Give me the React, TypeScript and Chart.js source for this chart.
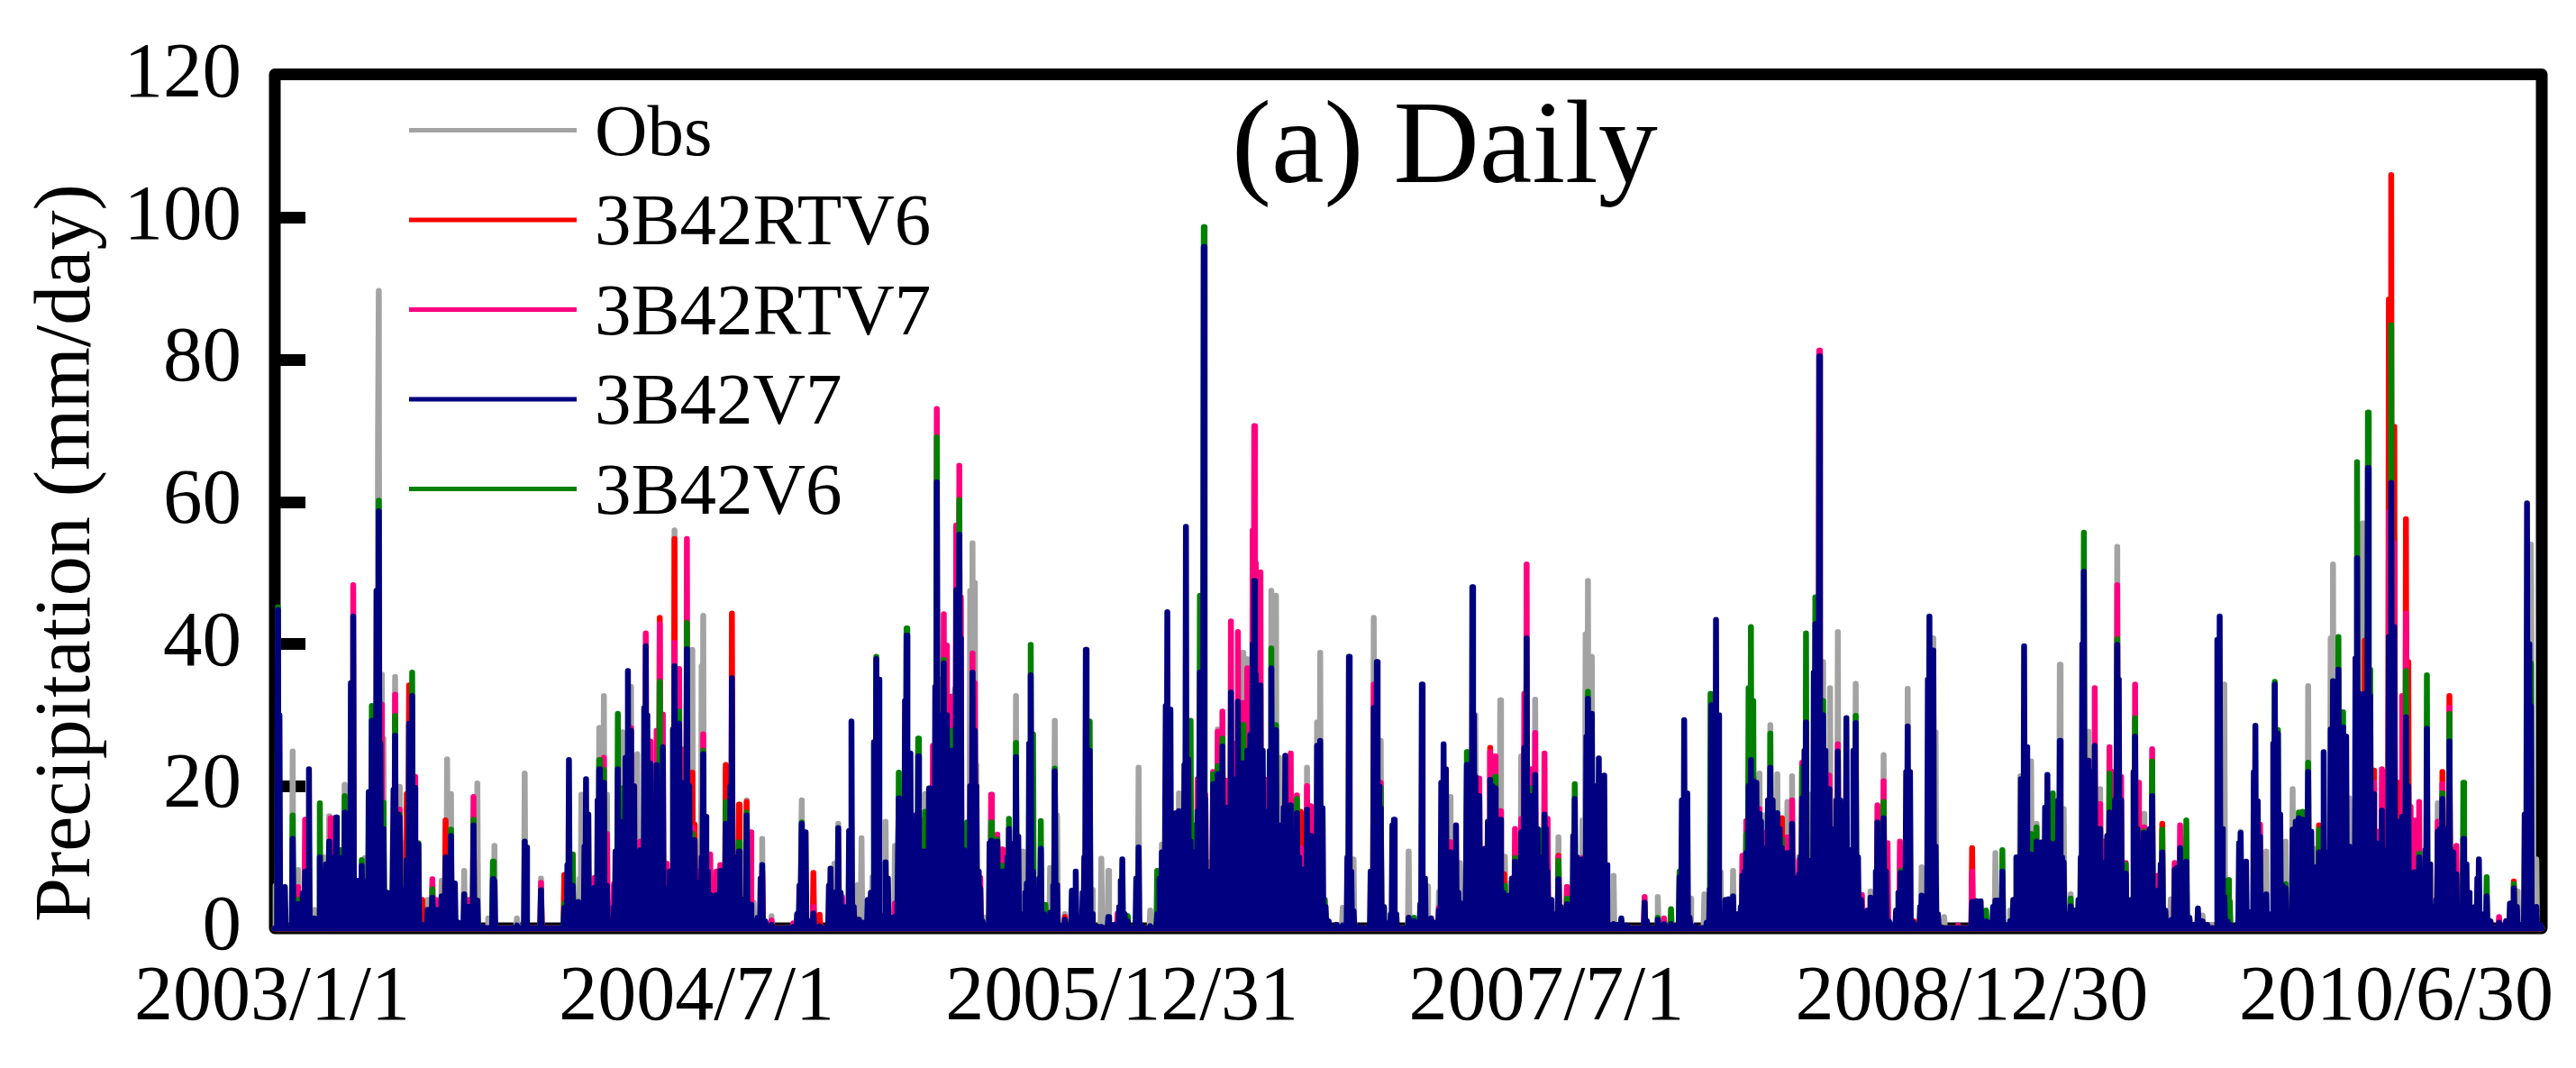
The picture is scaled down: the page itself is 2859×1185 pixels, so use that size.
import { Chart, registerables } from "chart.js";
import React, { useEffect, useRef } from "react";

Chart.register(...registerables);

// Peaks as [day since 2003/1/1, mm/day]. Days not listed are dry.
const obsPeaks: number[][] = [
  [1,6],[23,24.9],[30,8.2],[44,10.8],[51,2.6],[63,10],[70,15.8],[90,20.2],[116,9.9],[133,70],[134,89.7],[137,35.7],[140,26.7],[155,35.4],[161,19.9],[165,12],[197,4],[215,6.7],[222,23.8],[227,18.9],[244,8.1],[261,20.4],[275,1.4],[283,11.6],[312,1.4],[322,21.8],[343,7],
  [393,7],[395,18.8],[404,8],[418,28.2],[424,32.7],[428,18.8],[448,27.6],[459,34],[467,24.5],[486,12.7],[496,34.9],[515,56],[538,39.2],[550,36.9],[552,44],[598,11],[608,18],[617,3.6],[628,12.6],[640,1.7],[676,4],[679,18],[721,9.1],[726,14.7],
  [751,6.1],[756,12.7],[770,7.2],[787,15],[799,11.6],[838,18.9],[876,33.6],[896,47.5],[899,54.2],[902,48.6],[904,23],[915,1.5],[955,32.7],[964,10.8],[969,7.6],[999,8.5],[1005,29.2],[1008,15.9],[1018,2],[1053,5.4],[1065,9.8],[1074,8.1],
  [1113,22.6],[1128,2.5],[1143,11.8],[1165,19],[1203,9.3],[1215,28],[1247,38.8],[1253,37.9],[1284,47.5],[1290,46.8],[1294,24],[1330,22.6],[1343,29],[1347,38.8],[1350,16.9],[1376,2.9],[1390,9.7],[1416,43.7],[1425,26.4],[1430,2.7],[1461,10.8],
  [1485,5.9],[1500,5.1],[1514,18.5],[1527,9.2],[1530,5.3],[1547,30],[1579,32.1],[1585,10.1],[1590,6.3],[1603,13],[1606,24.2],[1624,32.2],[1654,12.8],[1685,15.2],[1689,41.4],[1692,48.9],[1697,38.2],[1725,7.4],[1782,4.4],[1824,4.2],[1842,4.8],
  [1863,7.9],[1879,8.1],[1909,21],[1913,21.8],[1918,15.9],[1927,28.6],[1936,21.7],[1949,17.8],[1955,21.4],[1964,10.1],[1977,18.8],[1995,37.5],[2004,33.8],[2014,41.7],[2037,34.4],[2056,5.2],[2073,24.4],[2104,33.7],[2122,8.6],[2137,40.8],[2140,27.6],[2151,1.6],[2217,10.6],
  [2236,2.5],[2249,21.4],[2263,23.5],[2270,14.7],[2300,37.1],[2305,16.8],[2314,4.8],[2337,27.7],[2352,19.6],[2374,53.7],[2408,16.1],[2443,4.1],[2484,1.8],[2496,0.5],[2512,34.3],[2533,13.6],[2566,10.8],[2585,8.6],[2591,12.2],
  [2600,19.6],[2620,34.1],[2630,11.2],[2649,40.8],[2652,51.2],[2673,18.3],[2690,57],[2731,55.2],[2778,9],[2787,17.6],[2890,5.2],[2907,54],[2908,35.9],[2914,9.7],
];

const rtv6Peaks: number[][] = [
  [170,18.9],[173,34.2],[190,4],[220,15.2],[373,7.5],[496,43.7],[515,54.8],[538,21.9],[541,14.6],[581,23],[589,44.3],[598,17.4],[608,17.8],[694,7.8],[702,1.9],[1018,1.6],[1322,16.4],[1566,25.4],[1584,7.6],[1654,10.2],[1665,5.8],[1695,4.6],[1942,15.5],[2112,1],[2187,11.3],[2432,14.7],[2634,14.5],[2693,40.5],[2704,22.2],[2724,88.5],[2727,106],[2731,70.6],[2736,20.5],[2746,57.6],[2749,37.5],[2793,22],[2802,32.7],[2807,11],[2885,6.6],
];

const rtv7Peaks: number[][] = [
  [30,5.8],[39,15.3],[72,15.5],[101,48.3],[137,31.5],[155,32.9],[161,16.7],[180,21.3],[203,6.9],[208,4],[250,4],[256,18.5],[343,6.4],
  [412,7.1],[424,24],[428,13.3],[437,6.2],[459,28.2],[471,12.2],[478,41.5],[483,26.3],[492,27.8],[496,42.8],[500,30.1],[505,9.1],[515,40.2],[521,36.5],[524,25.2],[531,54.8],[538,14.2],[546,8],[552,27.3],[561,10.4],[569,8],[574,8.9],[613,13.5],[628,8],[640,1.1],[668,0.7],[694,3],[731,4.4],
  [799,3.5],[824,9.8],[834,15.3],[848,25.7],[853,73.1],[858,35],[862,44.2],[866,39.8],[872,32.6],[878,56.7],[882,65.1],[884,46.6],[899,38.7],[902,34.5],[909,7.1],[923,18.8],[931,13.2],[937,11.1],[1086,2.1],
  [1189,21],[1199,18.8],[1209,22],[1215,27.7],[1221,30.5],[1225,20.8],[1232,43.2],[1236,26],[1241,41.7],[1247,31.7],[1253,36.6],[1257,35.3],[1260,56],[1262,70.7],[1264,51.4],[1270,50.1],[1275,21],[1309,24.6],[1317,18.7],[1322,11.3],[1330,20],[1334,17.2],[1416,34.3],[1425,20.5],
  [1500,2.9],[1514,12.1],[1552,21.1],[1566,24.8],[1572,24.2],[1579,16.5],[1598,14],[1606,15.4],[1610,33],[1613,51.2],[1618,22.4],[1624,27.5],[1636,24.6],[1640,15.4],[1654,10],[1665,5.8],[1685,9.9],[1765,4.4],[1790,1.4],
  [1891,10.2],[1896,15.1],[1913,16.8],[1918,13.4],[1949,12.8],[1955,18],[1964,9.5],[1968,23.3],[1990,81.3],[2003,21.5],[2014,25.9],[2031,6.9],[2045,4.7],[2065,17.3],[2073,20.7],[2078,12],[2094,12.2],[2169,0.4],[2187,8],
  [2345,33.8],[2352,17.5],[2357,12.2],[2364,25.5],[2368,22],[2374,48.3],[2379,21.3],[2385,9.2],[2397,34.3],[2401,20.5],[2408,14.2],[2419,25.2],[2426,7.4],[2448,9.2],[2455,14.5],[2558,14.6],
  [2704,20.5],[2710,13.6],[2715,22.4],[2720,22],[2724,58.6],[2731,54.2],[2741,32.7],[2746,44.3],[2752,17.1],[2757,15.2],[2763,17.8],[2787,15],[2793,20.3],[2802,31],[2811,11.6],[2866,1.6],
];

const v7Peaks: number[][] = [
  [4,44.8],[6,30],[9,3],[13,5.8],[23,12.6],[30,3.4],[36,4.9],[39,8],[44,22.4],[51,1.4],[58,10],[63,0.8],[66,9],[70,12.2],[75,10],[79,15.6],[84,9.9],[90,16.3],[96,12.6],[98,34.5],[101,43.9],[107,6.7],[112,8.8],[116,6.6],[121,19.2],[125,29.2],[127,24.6],[131,47.5],[134,58.7],[136,26],[140,14],[144,5],[150,3],[153,19.5],[155,27.1],[158,16],[161,15.6],[165,5.4],[170,9.6],[173,28.8],[177,32.7],[180,19.8],[185,11.8],[190,0.5],[197,2.6],[203,4.3],[208,2.6],[215,4.5],[220,10],[227,13],[232,6.3],[237,0.8],[244,4.8],[250,3],[256,14.5],[261,3.9],[268,0.2],[281,6.9],[283,6.6],[312,0.4],[322,12.2],[324,11.4],[343,5.4],
  [373,2.9],[377,8.9],[379,23.7],[384,6],[391,3.7],[395,2.9],[399,11.5],[401,21],[404,16],[412,5.7],[416,18],[418,22.4],[424,20.5],[428,6],[437,3],[439,10.8],[442,22.4],[445,15],[448,12.6],[452,24],[455,36.2],[459,27.8],[463,20],[467,10.4],[471,11],[476,31],[478,39.7],[480,30],[483,23.2],[486,5.6],[489,12],[492,23],[496,16.8],[500,25.5],[505,5.6],[509,8],[513,28],[515,36.9],[518,25],[521,28.8],[524,20.5],[528,6],[531,39.3],[534,20],[538,12.4],[541,12.4],[546,6.4],[550,10],[552,24.5],[555,15.7],[558,8],[561,4.7],[565,4.5],[569,4.7],[574,8.1],[578,5],[581,14.7],[584,10.8],[587,20],[589,35.2],[593,10],[598,10.8],[603,4],[608,15.9],[613,3.3],[617,1],[622,1.5],[626,7],[628,8.9],[632,1],[640,0.5],[668,0.2],[673,2],[676,6],[679,14.7],[684,13.5],[690,1],[694,2.1],[702,0.3],[714,6],[716,8.4],[721,5],[726,14.1],[729,5],[731,1.6],
  [736,3],[740,13.7],[743,29.1],[746,3],[750,1.2],[753,1.2],[758,0.8],[764,4],[768,5],[772,26.2],[775,37.9],[778,35],[781,1.5],[784,1.8],[787,9.3],[790,7],[795,1.5],[800,1.7],[803,10],[804,18.3],[807,12],[809,12],[812,32],[814,41.2],[817,24],[819,24.6],[822,5],[824,6.4],[827,16],[829,24.2],[832,5],[834,10.8],[838,10.8],[843,19.7],[846,14],[848,14.2],[851,34],[853,62.8],[856,30],[858,25],[860,20],[862,37.3],[865,30],[866,27.8],[869,12],[872,25],[876,11.6],[878,47.6],[882,55.4],[884,40.8],[887,11],[892,10.3],[896,20],[899,36],[902,27.8],[904,20],[907,8],[909,5.6],[912,1],[915,0.3],[921,12],[923,12.3],[927,10],[931,12.2],[934,8],[937,8],[940,2.5],[944,10],[946,14],[950,2],[953,12],[955,24.1],[958,12.9],[961,2],[964,1.5],[967,5],[969,6.3],[972,26],[974,35.6],[977,8],[980,3.5],[985,7],[987,11.2],[991,2],[995,0.5],[999,2.2],[1003,6],[1005,22.1],[1008,6.1],[1012,0.3],[1018,1.2],[1027,5.3],[1030,5],[1032,8],[1036,1.5],[1041,5],[1043,10],[1045,39.2],[1048,25],[1050,25],[1053,2],[1060,0.2],[1065,0.2],[1074,1.6],[1082,0.5],[1088,3],[1090,6.7],[1092,9.7],[1095,2],[1099,1],
  [1110,7],[1113,11.4],[1116,0.5],[1128,0.3],[1137,2],[1140,7],[1143,10.7],[1147,11],[1148,31.3],[1150,44.5],[1154,30.8],[1158,10],[1161,16.2],[1165,16.5],[1169,4],[1172,23],[1174,56.5],[1177,23.8],[1180,12.2],[1184,10.7],[1189,16.5],[1192,36],[1197,95.9],[1199,18.2],[1203,1.5],[1206,8],[1209,20.3],[1212,8],[1215,21.7],[1218,12],[1221,25.6],[1225,17],[1228,10],[1232,33.2],[1236,21],[1241,31.9],[1244,20],[1247,23.2],[1250,20],[1253,25],[1257,27.2],[1260,40],[1262,48.9],[1264,35.7],[1267,28],[1270,34.2],[1273,25],[1275,16.5],[1279,5],[1282,25],[1284,36.6],[1287,15],[1290,27.9],[1294,14.5],[1297,5],[1300,17],[1302,24.3],[1305,14],[1309,17.3],[1312,13],[1315,6],[1317,16.2],[1320,10],[1323,8.3],[1327,5],[1330,16.7],[1334,13],[1338,4],[1341,10],[1343,25.7],[1347,26.4],[1350,16.9],[1354,3],[1358,1],[1368,0.5],[1376,0.4],[1382,10],[1384,38.2],[1387,8],[1390,2.4],[1398,0.2],[1412,8],[1414,7],[1416,31],[1420,37.5],[1423,20],[1425,16.9],[1428,3],[1430,1],[1438,2],[1440,14.5],[1442,15.3],[1445,2],[1461,1.5],[1468,1],[1476,3.4],[1478,34.3],
  [1482,7],[1485,1],[1490,1.4],[1495,0.8],[1500,2.5],[1503,20.5],[1506,25.9],[1509,22.4],[1512,3],[1514,10.7],[1518,10],[1522,14.5],[1525,5],[1527,3.6],[1531,0.8],[1535,9.5],[1536,23],[1540,18],[1543,48],[1545,30],[1547,21.3],[1550,15],[1552,18.6],[1554,6.1],[1557,3.5],[1559,11.2],[1563,15],[1566,20.9],[1569,20],[1572,19.7],[1576,15],[1579,15.3],[1583,5],[1585,4.4],[1590,4.6],[1594,7],[1598,9.4],[1601,7],[1603,8],[1606,13.5],[1610,25.4],[1613,40.8],[1616,15],[1618,18.6],[1621,14],[1624,21.6],[1627,14],[1630,9.1],[1633,10],[1636,16],[1638,14],[1640,8],[1644,4],[1648,1.5],[1651,2],[1654,6.9],[1657,3],[1661,1],[1665,3.4],[1668,2],[1671,3],[1673,13],[1675,18.2],[1678,10],[1682,1],[1685,9.7],[1689,3],[1690,27],[1692,32.3],[1695,11],[1697,30.2],[1700,20],[1703,18],[1706,23.9],[1710,20],[1713,21.5],[1716,8.9],[1720,0.5],[1725,0.6],[1730,0.5],[1735,1.4],[1742,0.4],[1765,3.6],[1768,1],[1782,1.2],[1790,0.6],[1799,0.6],[1805,0.3],[1810,7.2],[1813,18],[1816,29.3],[1820,19],[1823,1.5],[1830,0.3],[1845,0.8],[1849,5.5],
  [1851,31.4],[1854,18],[1857,43.4],[1860,30],[1862,0.5],[1869,4],[1873,4.1],[1876,4],[1879,4.5],[1882,2],[1886,0.5],[1889,3],[1891,7.4],[1894,8],[1896,10.6],[1899,20],[1902,23.7],[1905,20.7],[1909,20.5],[1913,16.1],[1915,15],[1918,11.2],[1921,6],[1924,18],[1927,22.6],[1930,18],[1933,8],[1936,16.2],[1939,14],[1942,11.3],[1946,8],[1949,10.6],[1953,8],[1955,14.7],[1958,0.5],[1961,7],[1964,7.6],[1966,10],[1968,18.3],[1971,25],[1973,29],[1976,9.5],[1980,9],[1983,36],[1985,42.8],[1990,80.5],[1993,30],[1995,30],[1998,25],[2000,9],[2003,19.6],[2006,14],[2009,3],[2012,18],[2014,24.9],[2017,18],[2020,11],[2023,14],[2025,29.6],[2028,11],[2031,6],[2034,25],[2037,28.9],[2040,10],[2044,4],[2048,1],[2052,2.5],[2056,4.3],[2059,1],[2063,8],[2065,14.9],[2069,6],[2073,15.5],[2076,8],[2080,1],[2085,0.5],[2089,2.5],[2092,5],[2095,7.8],[2098,3],[2102,22],[2104,28.4],[2107,22],[2111,0.8],[2115,0.4],[2120,3],[2122,4.6],[2126,2],[2130,35],[2132,43.9],[2135,39],[2137,39.1],[2140,11.5],[2143,2],[2148,0.1],[2187,3.7],[2192,3.8],[2198,3.8],[2201,1],[2205,1],[2210,0.8],[2214,3],[2217,3.9],[2221,3.9],
  [2226,8],[2230,0.5],[2236,1],[2240,4],[2244,10],[2247,10],[2250,21],[2254,39.7],[2257,25.5],[2260,7],[2263,10.4],[2266,6],[2270,12.2],[2274,12],[2277,12.1],[2281,17],[2284,21.6],[2287,12],[2291,11.7],[2295,12],[2298,18],[2300,26.4],[2303,10],[2305,9.3],[2309,2],[2314,3.1],[2319,2.5],[2324,4],[2327,10],[2329,40],[2331,50.2],[2334,22],[2337,23.6],[2341,22],[2345,25.7],[2349,14],[2352,14],[2355,9],[2358,9.2],[2361,13],[2364,16.3],[2368,15],[2371,18],[2374,39.9],[2376,35],[2379,18],[2382,4],[2385,7.7],[2389,4],[2392,2],[2395,22],[2397,27],[2400,14],[2403,12],[2406,10],[2408,13.4],[2412,5],[2416,14],[2419,18.6],[2422,5],[2426,5.3],[2430,9],[2432,10.7],[2436,2.5],[2440,0.6],[2444,1.2],[2448,8.2],[2451,8.5],[2455,11.3],[2458,9],[2463,9.4],[2467,1.5],[2473,0.5],[2478,2.8],[2484,1],[2490,0.5],[2503,40.6],[2506,43.9],[2509,14],[2512,4.4],[2516,1],[2520,0.5],[2528,0.5],[2531,12],[2533,13.4],[2537,9],[2540,9.4],[2543,2.3],[2548,2],[2550,22],[2552,28.5],[2555,17.9],[2558,12.9],[2562,2],[2566,4.8],[2569,2],[2575,26],[2577,34.3],[2581,27.4],[2584,16],[2587,6],[2591,5.6],
  [2597,1],[2600,13.9],[2604,15],[2608,15.5],[2613,15.3],[2617,14],[2620,22],[2624,13.6],[2627,8],[2630,8.6],[2634,10.7],[2637,7],[2640,24.8],[2645,10.7],[2649,28],[2652,34.8],[2655,25],[2659,36.4],[2662,28],[2665,28.3],[2669,27],[2673,11.5],[2677,7],[2681,38],[2683,52.1],[2686,33],[2690,32.7],[2693,33],[2697,64.8],[2700,32.7],[2704,18.9],[2708,12],[2710,11.5],[2715,16.6],[2720,11],[2724,41],[2727,62.7],[2731,42.4],[2734,15],[2737,15],[2741,15.7],[2746,29.7],[2749,20],[2752,5.3],[2757,7.9],[2763,10],[2767,4],[2771,11],[2773,28.1],[2776,9],[2780,3],[2785,4],[2787,13.6],[2790,14],[2793,18.2],[2796,14],[2799,11],[2802,26.3],[2805,10.7],[2807,10.7],[2811,7.6],[2815,3],[2820,12.6],[2824,9],[2827,5],[2832,2],[2835,3],[2838,7],[2840,9.7],[2843,2],[2850,4.5],[2855,1],[2866,0.8],[2875,1],[2880,3.5],[2885,5.6],[2889,3],[2892,0.5],[2899,16],[2902,59.8],[2905,40],[2907,31.3],[2910,2],[2914,3],[2919,0.5],
];

const v6Peaks: number[][] = [
  [4,45.2],[23,15.9],[30,4],[58,17.6],[84,11],[90,18.6],[112,9.6],[125,31.3],[134,60.2],[140,17.7],[155,29.9],[161,16],[177,36],[185,12],[203,5.5],[227,13.9],[256,15.3],[281,9.4],
  [373,3.5],[384,10.4],[418,23.7],[424,22.3],[442,30.2],[448,19.7],[496,34.7],[521,30.5],[531,43],[538,13.3],[552,25],[581,17.8],[598,12.1],[608,16.3],[679,14.9],
  [775,38.2],[804,21.9],[809,13.8],[814,42.2],[824,7],[829,26.7],[834,11.5],[838,16.4],[853,69.1],[862,37.8],[872,27.8],[882,60.3],[892,14.9],[923,14.9],[931,12.5],[937,8.8],[946,15.4],[955,26.1],[974,39.9],[977,27.3],[987,15.1],[993,3.3],[1005,22.5],[1050,29.1],[1099,1.7],
  [1137,8.1],[1180,29.2],[1184,14.5],[1192,46.8],[1197,98.7],[1209,21.7],[1215,22.8],[1221,26.7],[1247,28.6],[1284,39.4],[1290,28.6],[1317,18.2],[1353,4],[1425,19.8],[1468,1.5],
  [1536,24.8],[1572,21.3],[1585,6],[1598,9.9],[1610,4.3],[1618,19.7],[1630,13.8],[1654,9.5],[1665,4.2],[1675,20.3],[1692,33.3],[1782,1.5],[1799,2.7],[1810,8],[1850,33],
  [1896,13.3],[1899,33.8],[1902,42.4],[1905,32],[1927,27.4],[1942,12.5],[1968,22.6],[1973,41.5],[1985,46.6],[1995,32],[2037,29.9],[2073,17.8],[2095,8.1],[2205,2.5],
  [2226,11],[2263,13.3],[2270,14.2],[2291,19],[2314,4.2],[2331,55.7],[2364,21.8],[2368,18],[2374,40.7],[2385,9],[2397,29.6],[2408,13.6],[2419,23.5],[2432,13.9],[2463,15.2],[2517,6.8],[2519,3.8],[2577,34.7],[2581,27.9],[2591,6.2],
  [2608,16.3],[2613,16.4],[2620,23.3],[2634,13.9],[2659,41],[2665,30.4],[2683,65.6],[2697,72.6],[2700,36.4],[2727,84.9],[2746,36.2],[2763,10.5],[2773,35.6],[2793,19],[2802,30.2],[2820,20.5],[2850,7.2],[2885,6.2],[2907,37.3],
];

const tickDays = [0, 547, 1095, 1642, 2190, 2737];
const tickLabels = ["2003/1/1", "2004/7/1", "2005/12/31", "2007/7/1", "2008/12/30", "2010/6/30"];
const lastDay = 2921;

const SERIF = "'Liberation Serif', 'Times New Roman', serif";

// fill in the dry days on both sides of each peak so the line drops back to zero
const toPoints = (peaks: number[][]) => {
  const sorted = [...peaks].sort((a, b) => a[0] - b[0]);
  const pts: { x: number; y: number }[] = [{ x: 0, y: 0 }];
  sorted.forEach(([day, mm], i) => {
    const prev = i > 0 ? sorted[i - 1][0] : -2;
    const next = i < sorted.length - 1 ? sorted[i + 1][0] : lastDay + 2;
    if (day - prev > 1 && day > 1) pts.push({ x: day - 1, y: 0 });
    pts.push({ x: day, y: mm });
    if (next - day > 2) pts.push({ x: day + 1, y: 0 });
  });
  pts.push({ x: lastDay, y: 0 });
  return pts;
};

const series = [
  { label: "Obs", color: "#a3a3a3", peaks: obsPeaks, order: 5 },
  { label: "3B42RTV6", color: "#ff0000", peaks: rtv6Peaks, order: 4 },
  { label: "3B42RTV7", color: "#ff0080", peaks: rtv7Peaks, order: 3 },
  { label: "3B42V7", color: "#000080", peaks: v7Peaks, order: 1 },
  { label: "3B42V6", color: "#008000", peaks: v6Peaks, order: 2 },
];

const framePlugin = {
  id: "frame",
  beforeDatasetsDraw(chart: any) {
    const { ctx, chartArea: a } = chart;
    ctx.save();
    ctx.strokeStyle = "#000";
    ctx.lineWidth = 13;
    ctx.lineJoin = "round";
    ctx.strokeRect(a.left, a.top - 1.5, a.right - a.left, a.bottom - a.top + 1.5);
    ctx.restore();
  },
};

const labelsPlugin = {
  id: "labels",
  afterDatasetsDraw(chart: any) {
    const { ctx } = chart;
    ctx.save();
    ctx.fillStyle = "#000";
    ctx.textBaseline = "alphabetic";
    ctx.textAlign = "left";
    ctx.font = `132px ${SERIF}`;
    ctx.fillText("(a) Daily", 1367, 202);
    ctx.font = `81px ${SERIF}`;
    chart.data.datasets.forEach((ds: any, i: number) => {
      const y = 144.5 + i * 99.5;
      ctx.fillStyle = ds.borderColor;
      ctx.fillRect(454, y - 2.5, 186, 5);
      ctx.fillStyle = "#000";
      ctx.fillText(ds.label, 660, y + 27);
    });
    // y axis title, sits a little above the axis centre in the original
    ctx.translate(99, 1023);
    ctx.rotate(-Math.PI / 2);
    ctx.font = `88px ${SERIF}`;
    ctx.fillText("Precipitation (mm/day)", 0, 0);
    ctx.restore();
  },
};

export default function App() {
  const ref = useRef<HTMLCanvasElement>(null);

  useEffect(() => {
    if (!ref.current) return;
    const chart = new Chart(ref.current, {
      type: "line",
      data: {
        datasets: series.map((s) => ({
          label: s.label,
          data: toPoints(s.peaks),
          borderColor: s.color,
          backgroundColor: s.color,
          borderWidth: 6.5,
          borderJoinStyle: "round",
          borderCapStyle: "round",
          pointRadius: 0,
          tension: 0,
          clip: false,
          order: s.order,
        })),
      } as any,
      options: {
        responsive: false,
        animation: false,
        devicePixelRatio: 1,
        parsing: false,
        normalized: true,
        layout: { padding: { top: 84, right: 38, left: 0, bottom: 0 } },
        plugins: {
          legend: { display: false },
          title: { display: false },
          tooltip: { enabled: false },
        },
        scales: {
          x: {
            type: "linear",
            min: 0,
            max: lastDay,
            afterBuildTicks: (s: any) => {
              s.ticks = tickDays.map((value) => ({ value }));
            },
            afterFit: (s: any) => {
              s.height = 155;
              s.paddingLeft = 0;
              s.paddingRight = 0;
            },
            grid: { display: false, drawTicks: false },
            border: { display: false },
            ticks: {
              autoSkip: false,
              maxRotation: 0,
              padding: 27,
              labelOffset: -3,
              color: "#000",
              font: { family: SERIF, size: 86 },
              callback: (_v: any, i: number) => tickLabels[i],
            },
          },
          y: {
            min: 0,
            max: 120,
            afterFit: (s: any) => {
              s.width = 305;
              s.paddingTop = 0;
              s.paddingBottom = 0;
            },
            grid: {
              drawOnChartArea: false,
              tickLength: -34,
              tickWidth: 13,
              // 0 and 120 fall on the frame
              tickColor: (c: any) =>
                c.tick && (c.tick.value === 0 || c.tick.value === 120) ? "transparent" : "#000",
            },
            border: { display: false },
            ticks: {
              stepSize: 20,
              padding: 71,
              color: "#000",
              font: { family: SERIF, size: 87 },
            },
          },
        },
      } as any,
      plugins: [framePlugin, labelsPlugin],
    });
    return () => chart.destroy();
  }, []);

  return (
    <div style={{ position: "absolute", left: 0, top: 0, width: 2859, height: 1185, background: "#fff" }}>
      <canvas ref={ref} width={2859} height={1185} style={{ display: "block" }} />
    </div>
  );
}
